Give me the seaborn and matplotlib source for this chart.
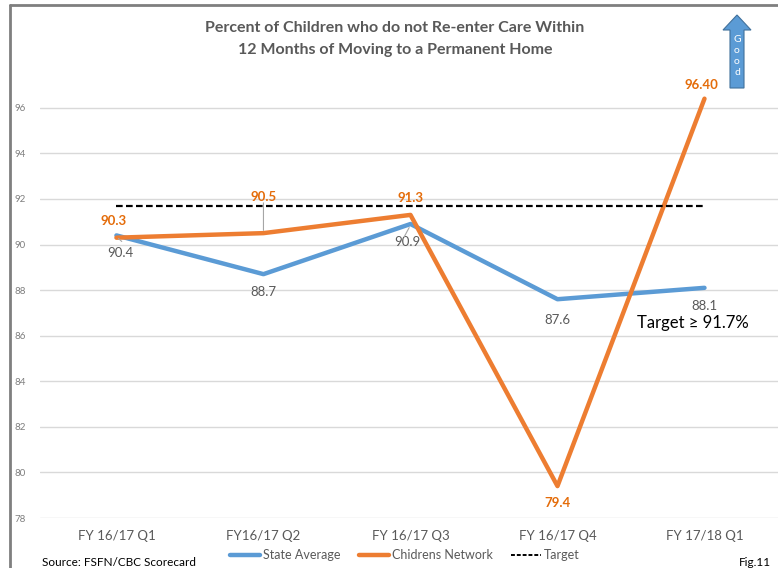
import pandas as pd
import matplotlib.pyplot as plt
import seaborn as sns
from matplotlib.lines import Line2D
from matplotlib.patches import FancyArrow

# --- data ---
quarters = ["FY 16/17 Q1", "FY16/17 Q2", "FY 16/17 Q3", "FY 16/17 Q4", "FY 17/18 Q1"]
state_avg = [90.4, 88.7, 90.9, 87.6, 88.1]
childrens_net = [90.3, 90.5, 91.3, 79.4, 96.4]
net_labels = ["90.3", "90.5", "91.3", "79.4", "96.40"]
target = 91.7

BLUE = "#5B9BD5"
ORANGE = "#ED7D31"
GRAY = "#595959"

sns.set_style("white")
plt.rcParams['font.family'] = ['Lato', 'DejaVu Sans']

df = pd.DataFrame({
    "x": list(range(len(quarters))) * 2,
    "value": state_avg + childrens_net,
    "series": ["State Average"] * 5 + ["Chidrens Network"] * 5,
})

fig = plt.figure(figsize=(7.78, 5.68), dpi=100)
ax = fig.add_axes([40 / 778, 50 / 568, 738 / 778, 433 / 568])

sns.lineplot(data=df, x="x", y="value", hue="series",
             palette={"State Average": BLUE, "Chidrens Network": ORANGE},
             linewidth=3.2, ax=ax, legend=False, sort=False)
ax.plot([0, 4], [target, target], color="black", linestyle=(0, (3, 1.5)), linewidth=1.6)

ax.set_xlim(-0.52, 4.5)
ax.set_ylim(78, 97)
ax.set_yticks(range(78, 97, 2))
ax.set_xticks(range(len(quarters)))
ax.set_xticklabels(quarters, fontsize=9.5, color=GRAY)
ax.tick_params(axis='y', labelsize=7, colors="#7F7F7F", length=0, pad=10)
ax.tick_params(axis='x', length=0, pad=9)
ax.yaxis.grid(True, color="#D9D9D9", linewidth=1)
ax.set_xlabel("")
ax.set_ylabel("")
for s in ax.spines.values():
    s.set_visible(False)

# data labels - childrens network (orange, bold)
net_off = [(-2, 12), (0, 26), (0, 12), (0, -12), (-2, 10)]
for i, (v, lab) in enumerate(zip(childrens_net, net_labels)):
    dx, dy = net_off[i]
    ax.annotate(lab, (i, v), xytext=(dx, dy), textcoords="offset points",
                ha="center", va="center", color="#E46C0A", fontsize=9.5, fontweight="bold")
# leader line for 90.5
ax.annotate("", (1, 90.5), xytext=(1, 91.95),
            arrowprops=dict(arrowstyle="-", color="#A6A6A6", lw=0.8))

# data labels - state average (gray)
st_off = [(3, -13), (0, -13), (-2, -13), (0, -15), (0, -13)]
for i, v in enumerate(state_avg):
    dx, dy = st_off[i]
    ax.annotate(f"{v}", (i, v), xytext=(dx, dy), textcoords="offset points",
                ha="center", va="center", color=GRAY, fontsize=9.5)
ax.annotate("", (0, 90.35), xytext=(0.05, 90.05),
            arrowprops=dict(arrowstyle="-", color="#A6A6A6", lw=0.8))
ax.annotate("", (2, 90.85), xytext=(1.95, 90.25),
            arrowprops=dict(arrowstyle="-", color="#A6A6A6", lw=0.8))

ax.text(3.92, 86.55, "Target \u2265 91.7%", fontsize=12, color="black", ha="center", va="center")

# title
fig.text(395 / 778, 1 - 28 / 568, "Percent of Children who do not Re-enter Care Within",
         ha="center", va="center", fontsize=11.5, fontweight="bold", color=GRAY)
fig.text(395 / 778, 1 - 50 / 568, "12 Months of Moving to a Permanent Home",
         ha="center", va="center", fontsize=11.5, fontweight="bold", color=GRAY)

# "Good" arrow
fig.patches.append(FancyArrow(737 / 778, 1 - 88 / 568, 0, 58 / 568, width=14 / 778,
                              head_width=28 / 778, head_length=15 / 568,
                              length_includes_head=False, transform=fig.transFigure,
                              facecolor=BLUE, edgecolor="#41719C", linewidth=0.8))
fig.text(737 / 778, 1 - 56 / 568, "G\no\no\nd", ha="center", va="center",
         fontsize=7.5, color="white", linespacing=1.25)

# legend
handles = [Line2D([], [], color=BLUE, lw=3.2),
           Line2D([], [], color=ORANGE, lw=3.2),
           Line2D([], [], color="black", lw=1.4, linestyle=(0, (2, 1)))]
fig.legend(handles, ["State Average", "Chidrens Network", "Target"],
           loc="center", bbox_to_anchor=(405 / 778, 1 - 555 / 568), ncol=3,
           frameon=False, fontsize=9, handlelength=2.4, handletextpad=0.2,
           columnspacing=1.5, labelcolor=GRAY)

fig.text(42 / 778, 1 - 562 / 568, "Source: FSFN/CBC Scorecard", ha="left", va="center",
         fontsize=8.5, color="black")
fig.text(755 / 778, 1 - 562 / 568, "Fig.11", ha="center", va="center", fontsize=8.5, color="black")

# outer frame lines
fig.add_artist(Line2D([10 / 778, 1], [1 - 5 / 568, 1 - 5 / 568], transform=fig.transFigure,
                      color="#7F7F7F", lw=2))
fig.add_artist(Line2D([10 / 778, 10 / 778], [0, 1 - 5 / 568], transform=fig.transFigure,
                      color="#7F7F7F", lw=2))

fig.savefig("out.png", dpi=100)
